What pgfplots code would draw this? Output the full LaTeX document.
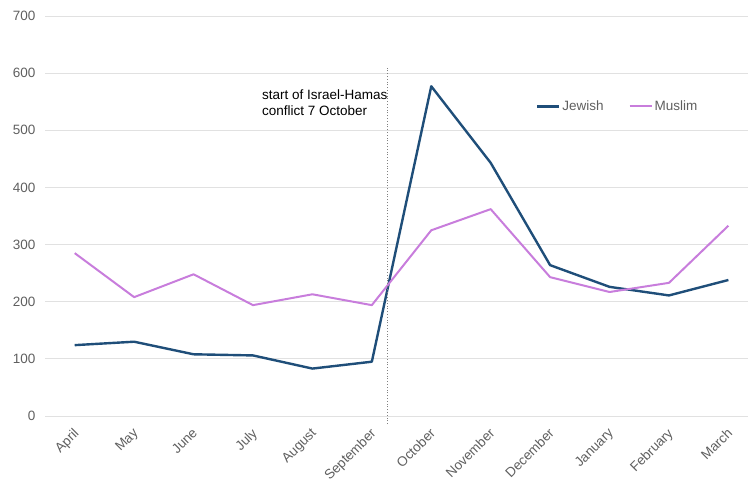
\documentclass[border=0pt]{standalone}
\usepackage{pgfplots}
\pgfplotsset{compat=1.18}
\usepackage{fontspec}
\setmainfont{Liberation Sans}
\definecolor{jewish}{RGB}{31,78,121}
\definecolor{muslim}{RGB}{200,125,220}
\definecolor{tickgray}{RGB}{95,95,95}
\definecolor{gridgray}{RGB}{225,225,225}
\begin{document}
\begin{tikzpicture}
\useasboundingbox (-45pt,-64pt) rectangle (703pt,416pt);
\begin{axis}[
  at={(0pt,0pt)}, anchor=south west,
  scale only axis, width=703pt, height=400pt,
  xmin=-0.5, xmax=11.33, ymin=0, ymax=700,
  axis line style={draw=none},
  clip=false,
  ytick={0,100,...,700},
  xtick={0,...,11},
  xticklabels={April,May,June,July,August,September,October,November,December,January,February,March},
  ymajorgrids, major grid style={gridgray, line width=0.8pt},
  tick style={draw=none},
  /pgf/number format/assume math mode=true,
  tick label style={font=\fontsize{13.5}{16}\selectfont, text=tickgray},
  yticklabel style={anchor=east, xshift=-6pt},
  xticklabel style={rotate=45, anchor=north east, xshift=-6pt, yshift=-3pt},
  legend style={at={(0.698,0.774)}, anchor=west, draw=none, fill=none, inner sep=0pt,
    font=\fontsize{13.5}{16}\selectfont, text=tickgray, legend columns=2,
    /tikz/every even column/.append style={column sep=23pt}},
  legend image code/.code={\draw[#1] (0pt,0pt) -- (22pt,0pt);},
]
\addplot[jewish, line width=2.4pt, line join=round] coordinates {
(0,124) (1,130) (2,108) (3,106) (4,83) (5,95) (6,577) (7,443) (8,264) (9,226) (10,211) (11,238)};
\addlegendentry{Jewish}
\addplot[muslim, line width=2pt, line join=round] coordinates {
(0,285) (1,208) (2,248) (3,194) (4,213) (5,194) (6,325) (7,362) (8,243) (9,217) (10,233) (11,333)};
\addlegendentry{Muslim}
\draw[gray, dotted, line width=0.8pt] (axis cs:5.27,-14) -- (axis cs:5.27,612);
\node[anchor=north west, align=left, inner sep=0pt, font=\fontsize{13.5}{16.5}\selectfont] at (axis cs:3.15,572) {start of Israel-Hamas\\conflict 7 October};
\end{axis}
\end{tikzpicture}
\end{document}
